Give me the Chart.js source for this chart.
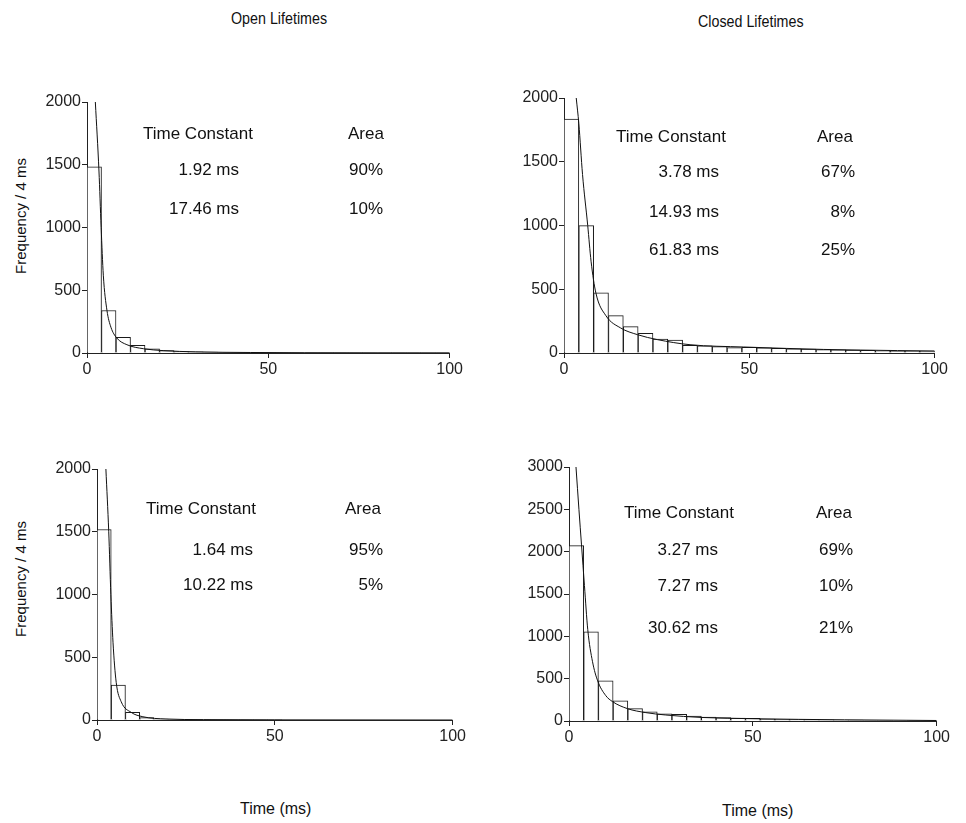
<!DOCTYPE html>
<html>
<head>
<meta charset="utf-8">
<script src="https://cdn.jsdelivr.net/npm/chart.js@4.4.1/dist/chart.umd.min.js"></script>
<style>
  body {
    margin: 0;
    width: 966px;
    height: 823px;
    position: relative;
    overflow: hidden;
    background: #fff;
    color: #111;
    font-family: "Liberation Sans", Arial, sans-serif;
  }
  .panel { position: absolute; }
  .txt { position: absolute; white-space: nowrap; line-height: 1; transform: translateY(-50%); }
  .narrow { transform-origin: left center; transform: translateY(-50%) scaleX(0.84); }
  .ylab { position: absolute; white-space: nowrap; line-height: 1; font-size: 15px;
          transform: translate(-50%, -50%) rotate(-90deg); }
</style>
</head>
<body>
<div class="panel" id="p1"><canvas id="c1"></canvas></div>
<div class="panel" id="p2"><canvas id="c2"></canvas></div>
<div class="panel" id="p3"><canvas id="c3"></canvas></div>
<div class="panel" id="p4"><canvas id="c4"></canvas></div>

<script>
// bins of 4 ms, centre of each bin
const binCenters = [2, 6, 10, 14, 18, 22, 26, 30, 34, 38, 42, 46, 50,
                    54, 58, 62, 66, 70, 74, 78, 82, 86, 90, 94, 98];

// histogram counts per bin
const openTop = [1483, 339, 125, 61, 34, 19, 12, 9, 7, 6, 5, 4, 3,
                 3, 2, 2, 2, 1, 1, 1, 1, 1, 1, 1, 1];
const closedTop = [1835, 999, 471, 293, 207, 154, 110, 102, 60, 57, 50, 42, 44,
                   40, 36, 32, 30, 26, 24, 22, 20, 18, 16, 15, 14];
const openBottom = [1518, 278, 61, 19, 8, 5, 3, 2, 1, 1, 1, 1, 1,
                    0, 0, 0, 0, 0, 0, 0, 0, 0, 0, 0, 0];
const closedBottom = [2072, 1054, 474, 237, 146, 107, 86, 78, 59, 47, 39, 35, 31,
                      24, 21, 18, 16, 14, 12, 10, 9, 8, 6, 5, 5];

// fitted curves
const openTopFitX = [2.3, 3.3, 3.9, 4.5, 5.5, 6.6, 8.2, 11, 15.6, 21, 30, 45, 60, 80, 100];
const openTopFitY = [2000, 1450, 1000, 620, 340, 205, 120, 66, 34, 19, 9, 4, 2, 1, 0.5];
const closedTopFitX = [3.3, 4.0, 5.0, 6.4, 7.3, 8.6, 11.3, 15.3, 19.8, 25.2, 34, 48.5, 60, 70, 80, 90, 100];
const closedTopFitY = [2000, 1800, 1400, 1000, 720, 471, 293, 196, 144, 105, 65, 47, 36, 28, 23, 19, 16];
const openBottomFitX = [2.5, 3.3, 3.9, 4.5, 5.4, 6.8, 9.6, 12.9, 19.4, 30, 50, 100];
const openBottomFitY = [2000, 1500, 1000, 620, 300, 146, 61, 26, 8, 3, 1, 0];
const closedBottomFitX = [1.9, 2.7, 3.4, 4.2, 5.1, 6.4, 7.8, 10, 11.8, 15.9, 20.9, 26.3, 36, 50, 75, 100];
const closedBottomFitY = [3000, 2500, 2080, 1600, 1080, 700, 474, 300, 230, 146, 99, 71, 42, 27, 14, 6];

// fit results shown in each panel
const openTopTau = ["1.92 ms", "17.46 ms"];
const openTopArea = ["90%", "10%"];
const closedTopTau = ["3.78 ms", "14.93 ms", "61.83 ms"];
const closedTopArea = ["67%", "8%", "25%"];
const openBottomTau = ["1.64 ms", "10.22 ms"];
const openBottomArea = ["95%", "5%"];
const closedBottomTau = ["3.27 ms", "7.27 ms", "30.62 ms"];
const closedBottomArea = ["69%", "10%", "21%"];

const tickFont = { family: "'Liberation Sans', Arial, sans-serif", size: 16 };
const ink = "#222";

function makePanel(n, area, bars, fitX, fitY, yMax) {
  const padL = 50, padT = 12, padR = 14, padB = 34;
  const w = Math.round(area.right - area.left) + padL + padR;
  const h = Math.round(area.bottom - area.top) + padT + padB;
  const box = document.getElementById("p" + n);
  box.style.left = Math.round(area.left - padL) + "px";
  box.style.top = Math.round(area.top - padT) + "px";
  const canvas = document.getElementById("c" + n);
  canvas.width = w;
  canvas.height = h;

  new Chart(canvas, {
    data: {
      datasets: [
        {
          type: "line",
          data: fitX.map((x, i) => ({ x: x, y: fitY[i] })),
          borderColor: "#111",
          borderWidth: 1,
          pointRadius: 0,
          cubicInterpolationMode: "monotone",
          fill: false,
          order: 1,
        },
        {
          type: "bar",
          data: binCenters.map((x, i) => ({ x: x, y: bars[i] })),
          backgroundColor: "#fff",
          borderColor: "#1a1a1a",
          borderWidth: 1,
          borderSkipped: "start",
          barPercentage: 1,
          categoryPercentage: 1,
          order: 2,
        },
      ],
    },
    options: {
      responsive: false,
      animation: false,
      devicePixelRatio: 1,
      layout: { padding: { top: padT, right: padR, left: 0, bottom: 0 } },
      plugins: { legend: { display: false }, tooltip: { enabled: false } },
      scales: {
        x: {
          type: "linear",
          min: 0,
          max: 100,
          offset: false,
          afterFit: (s) => { s.height = padB; },
          ticks: { stepSize: 50, font: tickFont, color: ink, padding: 2, maxRotation: 0,
                   callback: (v) => String(v) },
          grid: { offset: false, drawOnChartArea: false, drawTicks: true, tickLength: 5, color: ink },
          border: { display: true, color: ink, width: 1 },
        },
        y: {
          min: 0,
          max: yMax,
          afterFit: (s) => { s.width = padL; },
          ticks: { stepSize: 500, font: tickFont, color: ink, padding: 1,
                   callback: (v) => String(v) },
          grid: { offset: false, drawOnChartArea: false, drawTicks: true, tickLength: 5, color: ink },
          border: { display: true, color: ink, width: 1 },
        },
      },
    },
  });
}

makePanel(1, { left: 87, right: 451, top: 102, bottom: 353 }, openTop, openTopFitX, openTopFitY, 2000);
makePanel(2, { left: 564, right: 936, top: 98, bottom: 353 }, closedTop, closedTopFitX, closedTopFitY, 2000);
makePanel(3, { left: 97, right: 454, top: 469, bottom: 720 }, openBottom, openBottomFitX, openBottomFitY, 2000);
makePanel(4, { left: 569, right: 938, top: 467, bottom: 721 }, closedBottom, closedBottomFitX, closedBottomFitY, 3000);

// text helpers
function put(text, x, y, opts) {
  const d = document.createElement("div");
  d.className = "txt" + (opts.narrow ? " narrow" : "");
  d.textContent = text;
  d.style.fontSize = opts.size + "px";
  d.style.top = y + "px";
  if (opts.right) d.style.right = (966 - x) + "px";
  else d.style.left = x + "px";
  document.body.appendChild(d);
}

function putTable(headX, areaX, headY, tauRight, areaRight, rows, taus, areas) {
  put("Time Constant", headX, headY, { size: 17 });
  put("Area", areaX, headY, { size: 17 });
  taus.forEach((t, i) => {
    put(t, tauRight, rows[i], { size: 17, right: true });
    put(areas[i], areaRight, rows[i], { size: 17, right: true });
  });
}

put("Open Lifetimes", 231, 18, { size: 17, narrow: true });
put("Closed Lifetimes", 698, 21, { size: 17, narrow: true });

putTable(143, 348, 133, 239, 383, [169, 208], openTopTau, openTopArea);
putTable(616, 817, 136, 719, 855, [171, 211, 249], closedTopTau, closedTopArea);
putTable(146, 345, 508, 253, 383, [549, 584], openBottomTau, openBottomArea);
putTable(624, 816, 512, 718, 853, [549, 585, 627], closedBottomTau, closedBottomArea);

// y axis titles
[216, 579].forEach((cy) => {
  const d = document.createElement("div");
  d.className = "ylab";
  d.textContent = "Frequency / 4 ms";
  d.style.left = "20px";
  d.style.top = cy + "px";
  document.body.appendChild(d);
});

put("Time (ms)", 240, 809, { size: 16 });
put("Time (ms)", 722, 811, { size: 16 });
</script>
</body>
</html>
